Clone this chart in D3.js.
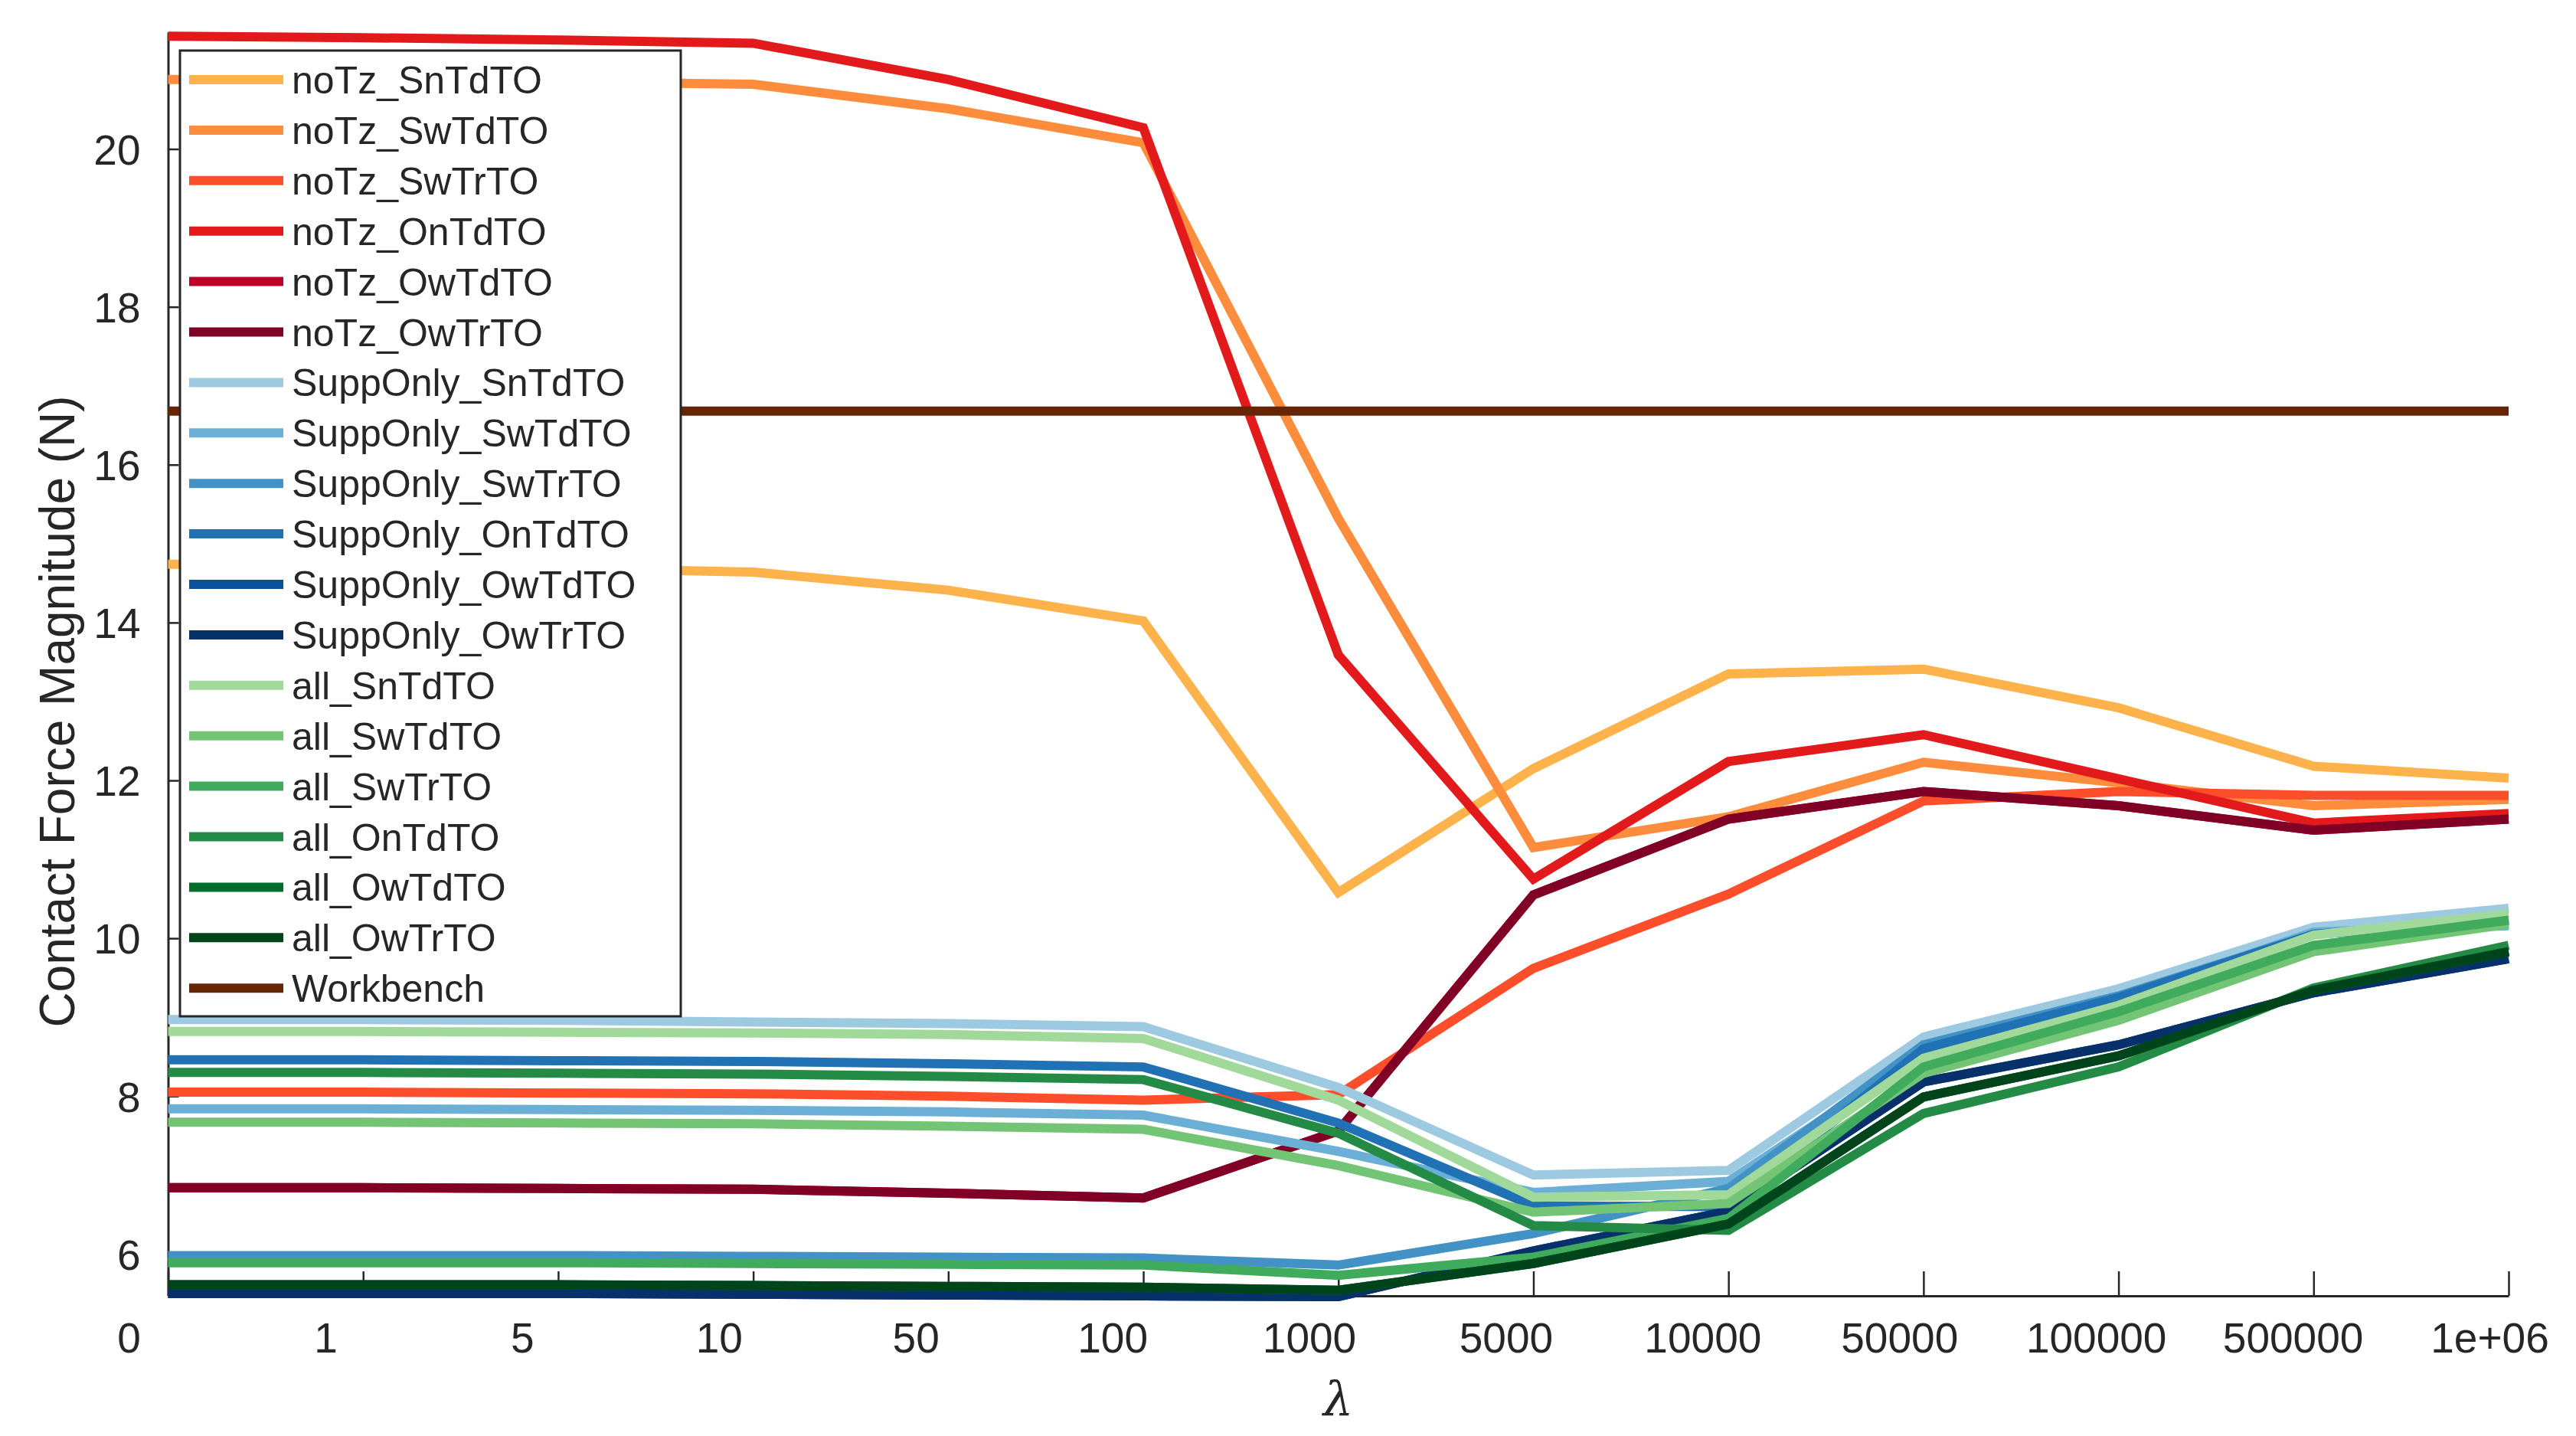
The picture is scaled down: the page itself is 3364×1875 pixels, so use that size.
<!DOCTYPE html>
<html>
<head>
<meta charset="utf-8">
<script src="https://cdn.jsdelivr.net/npm/d3@7"></script>
<style>
  html, body { margin: 0; padding: 0; background: #ffffff; }
  svg { display: block; }
  text { font-family: "Liberation Sans", Arial, Helvetica, sans-serif; fill: #262626; }
</style>
</head>
<body>
<svg id="chart" width="3364" height="1875"></svg>
<script>
// ---------------- data ----------------
const categories = ["0","1","5","10","50","100","1000","5000","10000","50000","100000","500000","1e+06"];
const yTicks = [6, 8, 10, 12, 14, 16, 18, 20];

const seriesNames = [
  "noTz_SnTdTO","noTz_SwTdTO","noTz_SwTrTO","noTz_OnTdTO","noTz_OwTdTO","noTz_OwTrTO",
  "SuppOnly_SnTdTO","SuppOnly_SwTdTO","SuppOnly_SwTrTO","SuppOnly_OnTdTO","SuppOnly_OwTdTO","SuppOnly_OwTrTO",
  "all_SnTdTO","all_SwTdTO","all_SwTrTO","all_OnTdTO","all_OwTdTO","all_OwTrTO",
  "Workbench"
];
const seriesColors = [
  "#feb24c","#fd8d3c","#fc4e2a","#e31a1c","#bd0026","#800026",
  "#9ecae1","#6baed6","#4292c6","#2171b5","#08519c","#08306b",
  "#a1d99b","#74c476","#41ab5d","#238b45","#006d2c","#00441b",
  "#662506"
];

const noTz_SnTdTO = [14.74, 14.72, 14.69, 14.64, 14.41, 14.02, 10.58, 12.15, 13.35, 13.41, 12.92, 12.18, 12.03];
const noTz_SwTdTO = [20.88, 20.87, 20.85, 20.82, 20.51, 20.08, 15.32, 11.15, 11.54, 12.23, 11.97, 11.68, 11.76];
const noTz_SwTrTO = [8.05, 8.05, 8.04, 8.03, 8.00, 7.95, 8.02, 9.62, 10.56, 11.74, 11.86, 11.81, 11.81];
const noTz_OnTdTO = [21.43, 21.41, 21.38, 21.34, 20.88, 20.27, 13.59, 10.75, 12.24, 12.58, 12.02, 11.46, 11.58];
const noTz_OwTdTO = [6.84, 6.84, 6.83, 6.82, 6.77, 6.71, 7.56, 10.55, 11.51, 11.86, 11.68, 11.37, 11.51];
const noTz_OwTrTO = [6.84, 6.84, 6.83, 6.82, 6.77, 6.71, 7.56, 10.55, 11.51, 11.86, 11.68, 11.37, 11.51];

const SuppOnly_SnTdTO = [8.97, 8.97, 8.96, 8.94, 8.92, 8.88, 8.11, 7.00, 7.06, 8.75, 9.36, 10.14, 10.38];
const SuppOnly_SwTdTO = [7.84, 7.84, 7.83, 7.82, 7.80, 7.76, 7.30, 6.78, 6.92, 8.55, 9.22, 10.08, 10.16];
const SuppOnly_SwTrTO = [5.98, 5.98, 5.98, 5.97, 5.96, 5.95, 5.86, 6.26, 6.83, 8.65, 9.27, 10.05, 10.25];
const SuppOnly_OnTdTO = [8.46, 8.46, 8.45, 8.44, 8.41, 8.37, 7.66, 6.61, 6.60, 8.60, 9.25, 10.05, 10.22];
const SuppOnly_OwTdTO = [5.50, 5.50, 5.50, 5.49, 5.48, 5.47, 5.46, 6.04, 6.54, 8.18, 8.65, 9.31, 9.74];
const SuppOnly_OwTrTO = [5.50, 5.50, 5.50, 5.49, 5.48, 5.47, 5.46, 6.04, 6.54, 8.18, 8.65, 9.31, 9.74];

const all_SnTdTO = [8.82, 8.82, 8.81, 8.80, 8.78, 8.73, 7.95, 6.72, 6.75, 8.48, 9.15, 10.04, 10.31];
const all_SwTdTO = [7.67, 7.67, 7.66, 7.65, 7.62, 7.58, 7.12, 6.53, 6.64, 8.29, 8.96, 9.83, 10.18];
const all_SwTrTO = [5.89, 5.89, 5.89, 5.88, 5.87, 5.86, 5.73, 5.96, 6.45, 8.37, 9.07, 9.91, 10.23];
const all_OnTdTO = [8.30, 8.30, 8.29, 8.28, 8.25, 8.21, 7.53, 6.36, 6.30, 7.78, 8.37, 9.37, 9.91];
const all_OwTdTO = [5.61, 5.61, 5.61, 5.60, 5.59, 5.58, 5.54, 5.88, 6.38, 7.99, 8.51, 9.34, 9.83];
const all_OwTrTO = [5.61, 5.61, 5.61, 5.60, 5.59, 5.58, 5.54, 5.88, 6.38, 7.99, 8.51, 9.34, 9.83];

const Workbench = [16.68, 16.68, 16.68, 16.68, 16.68, 16.68, 16.68, 16.68, 16.68, 16.68, 16.68, 16.68, 16.68];

const seriesValues = [
  noTz_SnTdTO, noTz_SwTdTO, noTz_SwTrTO, noTz_OnTdTO, noTz_OwTdTO, noTz_OwTrTO,
  SuppOnly_SnTdTO, SuppOnly_SwTdTO, SuppOnly_SwTrTO, SuppOnly_OnTdTO, SuppOnly_OwTdTO, SuppOnly_OwTrTO,
  all_SnTdTO, all_SwTdTO, all_SwTrTO, all_OnTdTO, all_OwTdTO, all_OwTrTO,
  Workbench
];

// ---------------- layout ----------------
(function () {
const svg = d3.select("#chart");
svg.append("rect").attr("width", 3364).attr("height", 1875).attr("fill", "#ffffff");

const plotLeft = 219.5, plotRight = 3276, plotBottom = 1692, plotTop = 42;
const axisColor = "#262626";

const x = d3.scalePoint().domain(categories).range([plotLeft, plotRight]);
// tick labels in the original sit on a slightly wider, left-shifted spread
const xLabel = d3.scalePoint().domain(categories).range([168, 3251]);
const y = d3.scaleLinear().domain([5.47, 21.48]).range([plotBottom, plotTop]);

// axes
const gx = svg.append("g").attr("transform", `translate(0,${plotBottom})`)
  .call(d3.axisBottom(x).tickSizeInner(-32).tickSizeOuter(0).tickPadding(35));
const gy = svg.append("g").attr("transform", `translate(${plotLeft},0)`)
  .call(d3.axisLeft(y).tickValues(yTicks).tickSizeInner(-14).tickSizeOuter(0).tickPadding(36));

[gx, gy].forEach(g => {
  g.select(".domain").attr("stroke", axisColor).attr("stroke-width", 3);
  g.selectAll(".tick line").attr("stroke", axisColor).attr("stroke-width", 2.5);
  g.selectAll(".tick text")
    .attr("fill", axisColor)
    .style("font-family", '"Liberation Sans", Arial, Helvetica, sans-serif')
    .style("font-size", "55px");
});
gx.selectAll(".tick text").attr("dx", d => xLabel(d) - x(d));
gy.selectAll(".tick text").attr("dy", "0.36em");

// lines
const line = d3.line()
  .x((d, i) => x(categories[i]))
  .y(d => y(d));

const linesG = svg.append("g").attr("fill", "none");
seriesValues.forEach((vals, k) => {
  linesG.append("path")
    .datum(vals)
    .attr("d", line)
    .attr("stroke", seriesColors[k])
    .attr("stroke-width", 12)
    .attr("stroke-linejoin", "miter")
    .attr("stroke-miterlimit", 4)
    .attr("stroke-linecap", "butt");
});

// axis labels
svg.append("text")
  .attr("transform", "translate(97,929) rotate(-90)")
  .attr("text-anchor", "middle")
  .style("font-size", "64px")
  .attr("fill", axisColor)
  .text("Contact Force Magnitude (N)");

svg.append("text")
  .attr("x", (plotLeft + plotRight) / 2)
  .attr("y", 1848)
  .attr("text-anchor", "middle")
  .style("font-family", '"DejaVu Serif", "Liberation Serif", serif')
  .style("font-style", "italic")
  .style("font-size", "62px")
  .attr("fill", axisColor)
  .text("λ");

// legend
const lg = svg.append("g");
lg.append("rect")
  .attr("x", 235).attr("y", 66).attr("width", 654).attr("height", 1261)
  .attr("fill", "#ffffff").attr("stroke", axisColor).attr("stroke-width", 3);
seriesNames.forEach((name, k) => {
  const yy = 104 + k * 65.9;
  lg.append("line")
    .attr("x1", 247).attr("x2", 370).attr("y1", yy).attr("y2", yy)
    .attr("stroke", seriesColors[k]).attr("stroke-width", 12);
  lg.append("text")
    .attr("x", 381).attr("y", yy + 18)
    .style("font-size", "50px")
    .attr("fill", "#000000")
    .text(name);
});
})();
</script>
</body>
</html>
